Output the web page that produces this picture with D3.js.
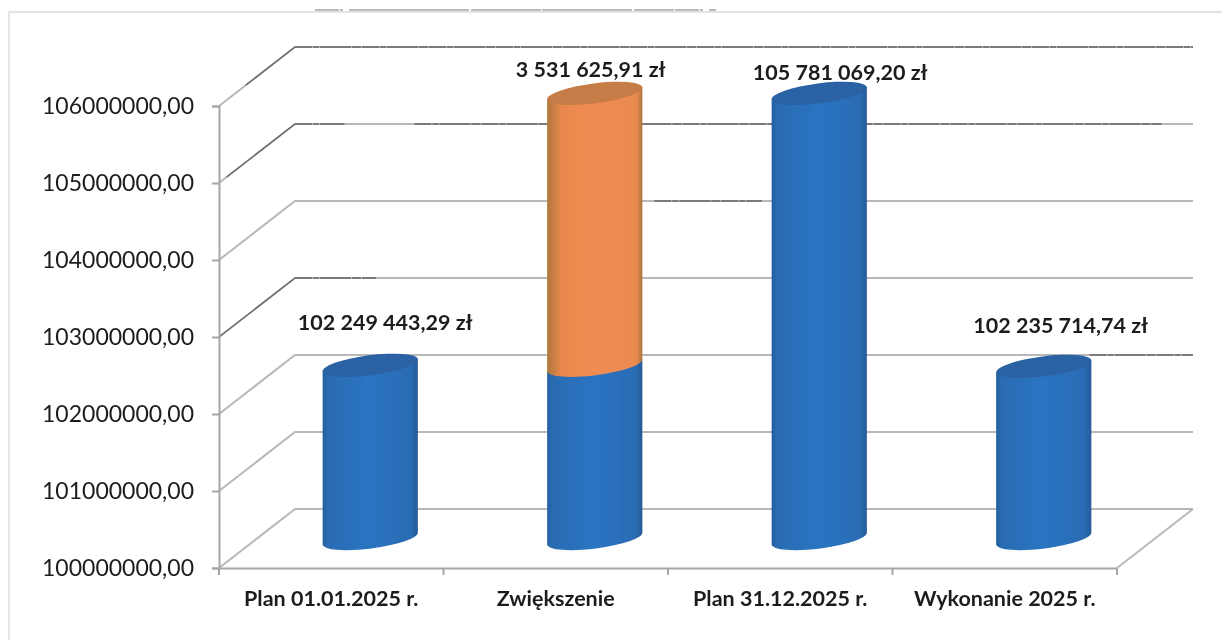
<!DOCTYPE html>
<html>
<head>
<meta charset="utf-8">
<script src="https://cdn.jsdelivr.net/npm/d3@7"></script>
<style>
  html, body { margin: 0; padding: 0; background: #fff; }
  svg { display: block; }
  text { font-family: Lato, "Open Sans", sans-serif; fill: #1c1c1c; }
</style>
</head>
<body>
<div id="chart"></div>
<script>
// Data
const categories = ["Plan 01.01.2025 r.", "Zwiększenie", "Plan 31.12.2025 r.", "Wykonanie 2025 r."];
const baseValues = [102249443.29, 102249443.29, 105781069.2, 102235714.74];
const addedValues = [0, 3531625.91, 0, 0];
const valueLabels = ["102 249 443,29 zł", "3 531 625,91 zł", "105 781 069,20 zł", "102 235 714,74 zł"];
const yTicks = [100000000, 101000000, 102000000, 103000000, 104000000, 105000000, 106000000];

// Layout
const WIDTH = 1231;
const HEIGHT = 641;
const DEPTH_X = 76;
const DEPTH_Y = -59;
const BAR_RX = 48;
const BAR_RY = 10;
const BAR_TILT = -7.3;

const labelOffsets = [[54, -65], [35, -46], [60, -43], [56, -63]];

// Places where the scan left the lines darker: tick value, start and end as share of the back wall
const darkGrid = [
  [106000000, 0, 1],
  [105000000, 0, 0.055],
  [105000000, 0.133, 0.965],
  [104000000, 0.4, 0.52],
  [103000000, 0, 0.09],
  [102000000, 0.885, 1],
];
const darkDiagonals = [[106000000, 0.35, 1], [105000000, 0.1, 1], [103000000, 0, 1]];

const svg = d3
  .select("#chart")
  .append("svg")
  .attr("width", WIDTH)
  .attr("height", HEIGHT)
  .style("background-color", "#fff");

const defs = svg.append("defs");
defs.append("filter").attr("id", "scan").append("feGaussianBlur").attr("stdDeviation", 0.45);

function addGradient(id, stops) {
  const g = defs.append("linearGradient").attr("id", id);
  stops.forEach((s) => g.append("stop").attr("offset", s[0]).attr("stop-color", s[1]));
}
addGradient("blueBody", [[0, "#275f9f"], [0.06, "#2a6cb3"], [0.5, "#2b74c2"], [0.92, "#2a6cb4"], [1, "#265c9a"]]);
addGradient("orangeBody", [[0, "#ad773e"], [0.15, "#e9884d"], [0.5, "#f08c52"], [0.94, "#ea8a50"], [1, "#aa7440"]]);

const chart = svg.append("g").attr("filter", "url(#scan)");

// Scales
const xScale = d3.scaleBand().domain(categories).range([219, 1117]);
const yScale = d3.scaleLinear().domain([100000000, 106000000]).range([568, 106]);

// Frame around the pasted chart
chart
  .append("path")
  .attr("d", "M9,640V12H1222")
  .attr("fill", "none")
  .attr("stroke", "#dcdcdc")
  .attr("stroke-width", 1.5);
chart
  .append("path")
  .attr("d", "M315,10H716")
  .attr("stroke", "#777")
  .attr("stroke-width", 1)
  .attr("stroke-dasharray", "24 1 3 6 120 2 70 1 90 2 40 1");

// Gridlines: along the side wall, then along the back wall
const gridLine = d3.line();
const wallPoints = (d) => [
  [219, yScale(d)],
  [219 + DEPTH_X, yScale(d) + DEPTH_Y],
  [1117 + DEPTH_X, yScale(d) + DEPTH_Y],
];

chart
  .selectAll(".grid")
  .data(yTicks)
  .enter()
  .append("path")
  .attr("class", "grid")
  .attr("d", (d) => gridLine(wallPoints(d)))
  .attr("fill", "none")
  .attr("stroke", "#b8b8b8")
  .attr("stroke-width", 2);

chart
  .selectAll(".dark-grid")
  .data(darkGrid)
  .enter()
  .append("line")
  .attr("x1", (d) => 219 + DEPTH_X + d[1] * (1117 - 219))
  .attr("x2", (d) => 219 + DEPTH_X + d[2] * (1117 - 219))
  .attr("y1", (d) => yScale(d[0]) + DEPTH_Y)
  .attr("y2", (d) => yScale(d[0]) + DEPTH_Y)
  .attr("stroke", "#666")
  .attr("stroke-width", 1.3)
  .attr("stroke-dasharray", "17 1 6 1 31 1 9 1");

chart
  .selectAll(".dark-diagonal")
  .data(darkDiagonals)
  .enter()
  .append("line")
  .attr("x1", (d) => 219 + d[1] * DEPTH_X)
  .attr("x2", (d) => 219 + d[2] * DEPTH_X)
  .attr("y1", (d) => yScale(d[0]) + d[1] * DEPTH_Y)
  .attr("y2", (d) => yScale(d[0]) + d[2] * DEPTH_Y)
  .attr("stroke", "#666")
  .attr("stroke-width", 1.3);

// Right edge of the floor
chart
  .append("line")
  .attr("x1", 1117)
  .attr("y1", yScale(100000000))
  .attr("x2", 1117 + DEPTH_X)
  .attr("y2", yScale(100000000) + DEPTH_Y)
  .attr("stroke", "#b8b8b8")
  .attr("stroke-width", 2);

// Axes
const yAxis = chart
  .append("g")
  .attr("transform", "translate(219, 0)")
  .call(
    d3
      .axisLeft(yScale)
      .tickValues(yTicks)
      .tickSize(7)
      .tickPadding(18)
      .tickFormat((d) => d.toFixed(2).replace(".", ","))
  );
yAxis.selectAll("path, line").attr("stroke", "#a6a6a6").attr("stroke-width", 2);
yAxis.selectAll("text").attr("font-size", 23).attr("font-family", "Lato").attr("fill", "#1c1c1c");

const xAxis = chart
  .append("g")
  .attr("transform", "translate(0, 568)")
  .call(d3.axisBottom(xScale).tickSize(0).tickPadding(23));
xAxis.selectAll("path").attr("stroke", "#a6a6a6").attr("stroke-width", 2);
xAxis
  .selectAll("text")
  .attr("font-size", 21.5)
  .attr("font-family", "Lato")
  .attr("font-weight", 700)
  .attr("fill", "#1c1c1c");

chart
  .selectAll(".edge-tick")
  .data(d3.range(categories.length + 1))
  .enter()
  .append("line")
  .attr("x1", (i) => 219 + i * xScale.step())
  .attr("x2", (i) => 219 + i * xScale.step())
  .attr("y1", 568)
  .attr("y2", 575)
  .attr("stroke", "#a6a6a6")
  .attr("stroke-width", 2);

// Cylinders stand half way into the depth of the floor
const barX = (c) => xScale(c) + xScale.bandwidth() / 2 + DEPTH_X / 2 + 1;
const barY = (v) => yScale(v) + DEPTH_Y / 2;
const tiltRad = (BAR_TILT * Math.PI) / 180;
const edgeX = BAR_RX * Math.cos(tiltRad);
const edgeY = BAR_RX * Math.sin(tiltRad);

function drawCylinder(cat, from, to, bodyFill, capFill) {
  const g = chart.append("g");
  const cx = barX(cat);
  const top = barY(to);
  const bottom = barY(from);
  // side wall with the rounded lower edge
  const body = d3.path();
  body.moveTo(cx - edgeX, top - edgeY);
  body.lineTo(cx - edgeX, bottom - edgeY);
  const arc = `A${BAR_RX},${BAR_RY} ${BAR_TILT} 0 0 ${cx + edgeX},${bottom + edgeY}`;
  g.append("path")
    .attr("d", `${body.toString()}${arc}L${cx + edgeX},${top + edgeY}Z`)
    .attr("fill", bodyFill);
  if (capFill) {
    g.append("ellipse")
      .attr("rx", BAR_RX)
      .attr("ry", BAR_RY)
      .attr("transform", `translate(${cx}, ${top}) rotate(${BAR_TILT})`)
      .attr("fill", capFill);
  }
}

categories.forEach((cat, i) => {
  const base = baseValues[i];
  const added = addedValues[i];
  drawCylinder(cat, 100000000, base, "url(#blueBody)", added ? null : "#2a62a3");
  if (added) {
    drawCylinder(cat, base, base + added, "url(#orangeBody)", "#c67c47");
  }
});

// Value labels
chart
  .selectAll(".value-label")
  .data(valueLabels)
  .enter()
  .append("text")
  .attr("class", "value-label")
  .attr("x", (d, i) => xScale(categories[i]) + xScale.bandwidth() / 2 + labelOffsets[i][0])
  .attr("y", (d, i) => yScale(baseValues[i] + addedValues[i]) + labelOffsets[i][1])
  .attr("text-anchor", "middle")
  .attr("font-size", 21.5)
  .attr("font-weight", 700)
  .text((d) => d);
</script>
</body>
</html>
